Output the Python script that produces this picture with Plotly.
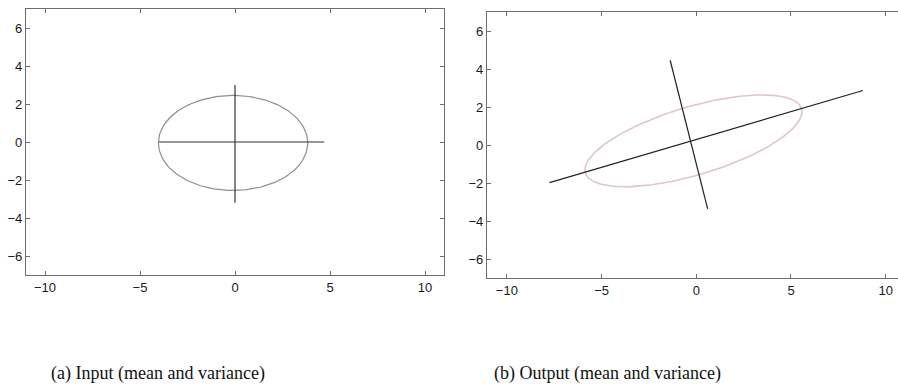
import numpy as np
import plotly.graph_objects as go

# ---- data ----
x_ticks = [-10, -5, 0, 5, 10]
y_ticks = [-6, -4, -2, 0, 2, 4, 6]

# panel (a): input mean and variance
a_ellipse_center = [-0.1, -0.05]
a_ellipse_semi = [3.93, 2.5]
a_ellipse_angle_deg = 0.0
a_line1_x = [-4.0, 4.7]
a_line1_y = [0.0, 0.0]
a_line2_x = [0.0, 0.0]
a_line2_y = [-3.2, 3.0]

# panel (b): output mean and variance
b_ellipse_center = [-0.15, 0.22]
b_ellipse_semi = [5.95, 1.8]
b_ellipse_angle_deg = 16.5
b_line1_x = [-7.75, 8.8]
b_line1_y = [-1.98, 2.87]
b_line2_x = [-1.38, 0.6]
b_line2_y = [4.46, -3.36]

captions = ["(a) Input (mean and variance)", "(b) Output (mean and variance)"]


def ellipse_xy(center, semi, angle_deg, n=200):
    t = np.linspace(0, 2 * np.pi, n)
    th = np.deg2rad(angle_deg)
    ex = semi[0] * np.cos(t)
    ey = semi[1] * np.sin(t)
    x = center[0] + ex * np.cos(th) - ey * np.sin(th)
    y = center[1] + ex * np.sin(th) + ey * np.cos(th)
    return x, y


fig = go.Figure()

ax, ay = ellipse_xy(a_ellipse_center, a_ellipse_semi, a_ellipse_angle_deg)
fig.add_trace(go.Scatter(x=ax, y=ay, mode="lines", line=dict(color="#988890", width=1.2),
                         xaxis="x", yaxis="y", hoverinfo="skip"))
fig.add_trace(go.Scatter(x=a_line1_x, y=a_line1_y, mode="lines", line=dict(color="#333333", width=1.2),
                         xaxis="x", yaxis="y"))
fig.add_trace(go.Scatter(x=a_line2_x, y=a_line2_y, mode="lines", line=dict(color="#333333", width=1.2),
                         xaxis="x", yaxis="y"))

bx, by = ellipse_xy(b_ellipse_center, b_ellipse_semi, b_ellipse_angle_deg)
fig.add_trace(go.Scatter(x=bx, y=by, mode="lines", line=dict(color="#e0c6c6", width=1.6),
                         xaxis="x2", yaxis="y2", hoverinfo="skip"))
fig.add_trace(go.Scatter(x=b_line1_x, y=b_line1_y, mode="lines", line=dict(color="#222222", width=1.2),
                         xaxis="x2", yaxis="y2"))
fig.add_trace(go.Scatter(x=b_line2_x, y=b_line2_y, mode="lines", line=dict(color="#222222", width=1.2),
                         xaxis="x2", yaxis="y2"))

W, H = 898, 392
tickfont = dict(family="Liberation Sans, Arial, sans-serif", size=13, color="#1a1a1a")
axis_common = dict(showgrid=False, zeroline=False, showline=True, linecolor="#6e6e6e", linewidth=1.2,
                   ticks="inside", ticklen=4, tickcolor="#6e6e6e", tickwidth=1, tickfont=tickfont)

fig.update_layout(
    width=W, height=H,
    margin=dict(l=0, r=0, t=0, b=0),
    paper_bgcolor="white", plot_bgcolor="white",
    showlegend=False,
    xaxis=dict(domain=[26 / W, 444 / W], range=[-11, 11], tickvals=x_ticks, anchor="y",
               mirror="allticks", **axis_common),
    yaxis=dict(domain=[1 - 275 / H, 1 - 9 / H], range=[-7, 7], tickvals=y_ticks, anchor="x",
               mirror="allticks", **axis_common),
    xaxis2=dict(domain=[487 / W, 1.0], range=[-11.05, 10.65], tickvals=x_ticks, anchor="y2",
                mirror="allticks", **axis_common),
    yaxis2=dict(domain=[1 - 278 / H, 1 - 12 / H], range=[-7, 7], tickvals=y_ticks, anchor="x2",
                mirror=False, **axis_common),
)

cap_font = dict(family="Liberation Serif, Times New Roman, serif", size=18, color="#111111")
fig.add_annotation(text=captions[0], x=157.5 / W, y=1 - 373 / H, xref="paper", yref="paper",
                   showarrow=False, xanchor="center", yanchor="middle", font=cap_font)
fig.add_annotation(text=captions[1], x=607 / W, y=1 - 373 / H, xref="paper", yref="paper",
                   showarrow=False, xanchor="center", yanchor="middle", font=cap_font)

fig.write_html("out.html")
